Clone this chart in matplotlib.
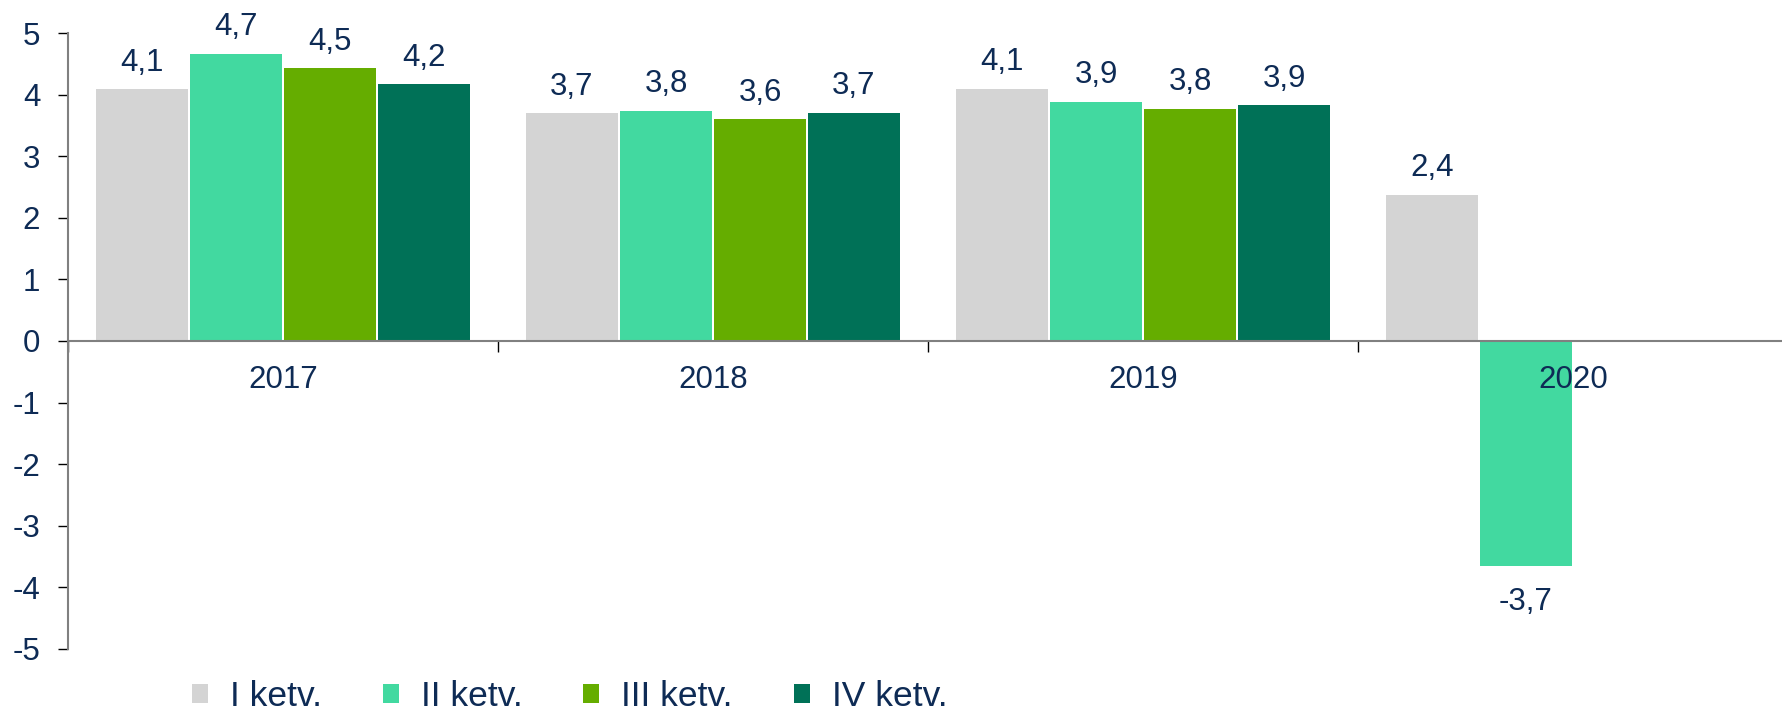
import matplotlib
matplotlib.use("Agg")
import matplotlib.pyplot as plt
from matplotlib.patches import Patch
import numpy as np

plt.rcParams['font.family'] = ['Liberation Sans', 'DejaVu Sans']

years = ['2017', '2018', '2019', '2020']
series = ['I ketv.', 'II ketv.', 'III ketv.', 'IV ketv.']
q1 = [4.09, 3.70, 4.10, 2.37]
q2 = [4.66, 3.74, 3.89, -3.65]
q3 = [4.43, 3.60, 3.77, None]
q4 = [4.17, 3.71, 3.83, None]
q1_labels = ['4,1', '3,7', '4,1', '2,4']
q2_labels = ['4,7', '3,8', '3,9', '-3,7']
q3_labels = ['4,5', '3,6', '3,8', None]
q4_labels = ['4,2', '3,7', '3,9', None]
colors = ['#D4D4D4', '#42D9A0', '#65AD00', '#007157']
yticks = [-5, -4, -3, -2, -1, 0, 1, 2, 3, 4, 5]

text_color = '#0E2B55'
fs = 22.5
legend_fs = 25.5

W, H = 1783, 713
fig = plt.figure(figsize=(W / 100, H / 100), dpi=100)
left_px, right_px = 68, 68 + 4 * 430
top_px, bot_px = 33.3, 648.7
ax = fig.add_axes([left_px / W, 1 - bot_px / H, (right_px - left_px) / W, (bot_px - top_px) / H])

x = np.arange(len(years))
slot = 0.2186
width = 0.2125
all_vals = [q1, q2, q3, q4]
all_labels = [q1_labels, q2_labels, q3_labels, q4_labels]
for i, (vals, labs) in enumerate(zip(all_vals, all_labels)):
    xs = [xx + (i - 1.5) * slot for xx, v in zip(x, vals) if v is not None]
    vs = [v for v in vals if v is not None]
    ls = [l for l in labs if l is not None]
    ax.bar(xs, vs, width=width, color=colors[i], zorder=1)
    for xx, v, l in zip(xs, vs, ls):
        if v >= 0:
            ax.annotate(l, (xx, v), xytext=(0, 13.5), textcoords='offset points',
                        ha='center', va='baseline', fontsize=fs, color=text_color)
        else:
            ax.annotate(l, (xx, v), xytext=(0, -32), textcoords='offset points',
                        ha='center', va='baseline', fontsize=fs, color=text_color)

ax.set_xlim(-0.5, 3.5)
ax.set_ylim(-5, 5)
ax.set_yticks(yticks)
ax.set_yticklabels([str(t) for t in yticks])

for s in ['top', 'right']:
    ax.spines[s].set_visible(False)
ax.spines['bottom'].set_position(('data', 0))
for s in ['left', 'bottom']:
    ax.spines[s].set_color('#808080')
    ax.spines[s].set_linewidth(1.5)

# group boundary ticks (major, no labels), year labels (minor, no tick marks)
ax.set_xticks(np.arange(-0.5, 4.0, 1.0))
ax.set_xticklabels([])
ax.set_xticks(x, minor=True)
ax.set_xticklabels(years, minor=True)
ax.tick_params(axis='x', which='major', length=8, width=1, color='black', direction='out')
ax.tick_params(axis='x', which='minor', length=0, pad=17, labelsize=fs, labelcolor=text_color)
ax.tick_params(axis='y', length=7, width=1, color='black', pad=13, labelsize=fs, labelcolor=text_color)

handles = [Patch(facecolor=c, edgecolor='none') for c in colors]
fig.legend(handles, series, loc='center left', bbox_to_anchor=(192 / W, 1 - 697 / H),
           ncol=4, frameon=False, fontsize=legend_fs, labelcolor=text_color,
           handlelength=0.45, handleheight=0.45, handletextpad=0.62,
           columnspacing=1.72, borderpad=0, borderaxespad=0)

fig.savefig('out.png', dpi=100)
